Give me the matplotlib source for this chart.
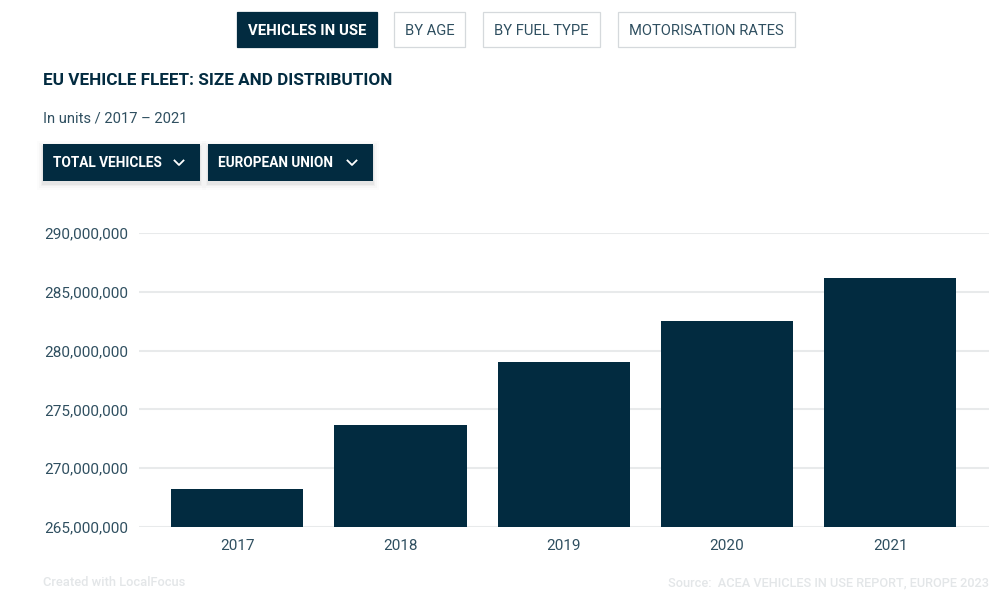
import matplotlib
matplotlib.use('Agg')
import matplotlib.pyplot as plt
from matplotlib.patches import Rectangle

plt.rcParams['font.family'] = ['Roboto', 'DejaVu Sans']

years = ['2017', '2018', '2019', '2020', '2021']
vehicles = [268200000, 273700000, 279000000, 282500000, 286200000]
y_ticks = [265000000, 270000000, 275000000, 280000000, 285000000, 290000000]

tabs = ['VEHICLES IN USE', 'BY AGE', 'BY FUEL TYPE', 'MOTORISATION RATES']
dropdowns = ['TOTAL VEHICLES', 'EUROPEAN UNION']

dark = '#022b40'
text_col = '#2f4f60'
grid_col = '#e8eaeb'
faint = '#e3e6e8'

fig = plt.figure(figsize=(10, 6), dpi=100, facecolor='white')

# overlay in pixel coordinates for the page furniture around the chart
page = fig.add_axes([0, 0, 1, 1], zorder=0)
page.set_xlim(0, 1000)
page.set_ylim(600, 0)
page.axis('off')

# tab buttons
tab_boxes = [(237, 140), (394, 71), (483, 117), (618, 177)]
for i, (label, (x, w)) in enumerate(zip(tabs, tab_boxes)):
    active = i == 0
    page.add_patch(Rectangle((x, 12), w, 35, facecolor=dark if active else 'white',
                             edgecolor=dark if active else '#d5d9dc', linewidth=0.9))
    page.text(x + w / 2, 31, label, ha='center', va='center', fontsize=10.7 if active else 10.6,
              color='white' if active else text_col, fontweight='bold' if active else 'normal')

page.text(43, 80.5, 'EU VEHICLE FLEET: SIZE AND DISTRIBUTION', fontsize=12.35, fontweight='bold',
          color=dark, va='center', ha='left')
page.text(43, 118.5, 'In units / 2017 – 2021', fontsize=10.65, color=text_col, va='center', ha='left')

# dropdowns with soft shadow
drop_boxes = [(43, 157), (208, 165)]
for label, (x, w) in zip(dropdowns, drop_boxes):
    for grow, alpha in [(6, 0.012), (4, 0.02), (2, 0.03), (1, 0.04)]:
        page.add_patch(Rectangle((x - grow, 144 - grow + 3), w + 2 * grow, 37 + 2 * grow,
                                 facecolor='black', edgecolor='none', alpha=alpha))
    page.add_patch(Rectangle((x, 144), w, 37, facecolor=dark, edgecolor='none'))
    page.text(x + 10, 163, label, fontsize=9.85, fontweight='bold', color='white',
              va='center', ha='left')
    cx = x + w - 21
    page.plot([cx - 4.5, cx, cx + 4.5], [160.5, 165, 160.5], color='white', linewidth=1.3)

page.text(43, 582.5, 'Created with LocalFocus', fontsize=9.3, color=faint, fontweight='medium',
          va='center', ha='left')
page.text(989, 582.5, 'Source:  ACEA VEHICLES IN USE REPORT, EUROPE 2023', fontsize=9.15, color=faint,
          fontweight='medium', va='center', ha='right')

# chart, axes box set from the gridline extents
ax = fig.add_axes([139 / 1000, (600 - 527) / 600, 850 / 1000, (527 - 233) / 600], zorder=1)
ax.patch.set_alpha(0)
ax.bar(range(len(years)), vehicles, width=0.81, color=dark, zorder=3)
ax.set_xlim(-0.602, 4.606)
ax.set_ylim(265000000, 290000000)
ax.set_yticks(y_ticks)
ax.set_yticklabels([f'{v:,}' for v in y_ticks])
ax.set_xticks(range(len(years)))
ax.set_xticklabels(years)
ax.grid(axis='y', color=grid_col, linewidth=1.5, zorder=0)
ax.tick_params(length=0, labelsize=11, labelcolor=text_col)
ax.tick_params(axis='y', pad=8)
ax.tick_params(axis='x', pad=9)
for spine in ax.spines.values():
    spine.set_visible(False)

fig.savefig('out.png', dpi=100)
